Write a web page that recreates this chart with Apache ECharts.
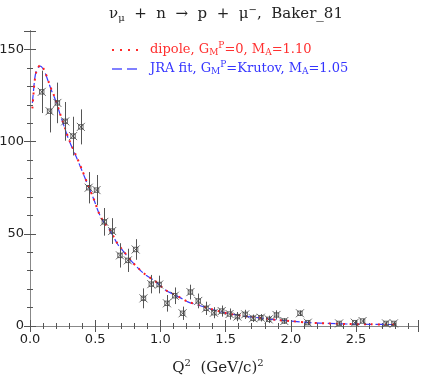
<!DOCTYPE html>
<html><head><meta charset="utf-8">
<script src="https://cdn.jsdelivr.net/npm/echarts@6/dist/echarts.min.js"></script>
<style>html,body{margin:0;padding:0;background:#fff}#c{width:421px;height:379px}</style>
</head><body><div id="c"></div>
<script>
// Data points (Baker_81)
const dataQ2 = [0.09,0.15,0.21,0.27,0.33,0.39,0.45,0.51,0.57,0.63,0.69,0.75,0.81,0.87,0.93,0.99,1.05,1.11,1.17,1.23,1.29,1.35,1.41,1.47,1.53,1.59,1.65,1.71,1.77,1.83,1.89,1.95,2.07,2.13,2.37,2.49,2.55,2.73,2.79];
const dataVal = [127,116.5,121,111,103,108,75,73.7,56.5,51.5,38.3,35.6,41.5,15,22.7,22.5,12.3,16.4,6.9,18.4,13.6,9.6,7.2,8.1,6.5,5.1,6.3,4.2,4.5,3.6,6,2.7,6.9,1.8,1.4,1.8,2.7,1.4,1.4];
const dataErr = [11.5,11.5,11,10.5,10.5,9.5,8.5,8.2,7.5,7,6.6,6.3,5.6,5.4,5,4.8,4.5,4.5,3.6,4,4,3.6,3,3,3,2.5,2.5,2,2,2,2.5,1.5,1.5,1.2,1,1,1.2,1,1];
// Dipole curve
const dipQ2 = [0.018,0.025,0.03,0.036,0.045,0.06,0.08,0.10,0.12,0.143,0.166,0.19,0.23,0.27,0.30,0.35,0.40,0.44,0.49,0.53,0.57,0.61,0.67,0.71,0.79,0.84,0.89,0.95,1.04,1.10,1.15,1.21,1.30,1.39,1.51,1.64,1.76,1.89,1.99,2.15,2.29,2.42,2.61,2.80];
const dipVal = [118,124,129,133,137,140,141.5,140,137,132.4,128,124,115.3,107,101,93,84.5,77.3,68.7,61,56,52.4,44.8,41.2,34.3,30.7,27.6,24.9,19.5,17.3,15.5,13.2,11.2,9.2,6.9,5.4,4.5,3.3,2.7,1.8,1.4,1.1,0.9,0.8];
// JRA fit curve
const jraQ2 = [0.018,0.025,0.03,0.036,0.045,0.06,0.08,0.10,0.12,0.143,0.166,0.19,0.23,0.27,0.30,0.35,0.40,0.44,0.49,0.53,0.57,0.61,0.67,0.71,0.79,0.84,0.89,0.95,1.04,1.10,1.15,1.21,1.30,1.39,1.51,1.64,1.76,1.89,1.99,2.15,2.29,2.42,2.61,2.80];
const jraVal = [121,126,130,134,137.5,140,141,139.5,136.5,132,127.5,123.5,115,106.5,100.5,92.5,84,77,68.5,61,55.8,52.2,44.6,41,34.2,30.6,27.5,24.8,19.4,17.2,15.4,13.1,11.1,9.1,6.9,5.4,4.4,3.3,2.7,1.8,1.4,1.1,0.9,0.8];
// Axis ticks
const xTicks = [0.0,0.5,1.0,1.5,2.0,2.5];
const yTicks = [0,50,100,150];

const X_MAX = 2.975, Y_MAX = 160;
const AX = '#888', TK = '#555', TXT = '#222';
const pts = dataQ2.map((q,i)=>[q,dataVal[i]]);
const errs = dataQ2.map((q,i)=>[q,dataVal[i]-dataErr[i],dataVal[i]+dataErr[i]]);
const dip = dipQ2.map((q,i)=>[q,dipVal[i]]);
const jra = jraQ2.map((q,i)=>[q,jraVal[i]]);

function xAx(pos, interval, len, labels){
  return {type:'value', min:0, max:X_MAX, interval:interval, position:pos,
    axisLine:{show:true, lineStyle:{color:AX,width:1}},
    axisTick:{show:true, inside:true, length:len, lineStyle:{color:TK,width:1}},
    splitLine:{show:false},
    axisLabel:{show:labels, margin:7, color:TXT, fontFamily:'DejaVu Sans', fontSize:13,
      formatter:v=>{const k=xTicks.findIndex(t=>Math.abs(t-v)<1e-6);return k>=0?xTicks[k].toFixed(1):'';}},
    name: labels ? 'Q{sup|2}  (GeV/c){sup|2}' : '',
    nameLocation:'middle', nameGap:32, nameMoveOverlap:false,
    nameTextStyle:{color:TXT, fontFamily:'DejaVu Serif', fontSize:15, padding:[0,0,0,-12],
      rich:{sup:{fontSize:10, fontFamily:'DejaVu Serif', color:TXT, padding:[0,0,10,0]}}}
  };
}
function yAx(pos, interval, len, labels){
  return {type:'value', min:0, max:Y_MAX, interval:interval, position:pos,
    axisLine:{show:true, lineStyle:{color:AX,width:1}},
    axisTick:{show:true, inside:true, length:len, lineStyle:{color:TK,width:1}},
    splitLine:{show:false},
    axisLabel:{show:labels, margin:6, color:TXT, fontFamily:'DejaVu Sans', fontSize:13,
      formatter:v=>yTicks.indexOf(v)>=0?String(v):''}
  };
}

const chart = echarts.init(document.getElementById('c'), null, {renderer:'canvas'});
function richFor(color){
  return {sub:{color, fontSize:9, fontFamily:'DejaVu Serif', padding:[6,0,0,0]},
          sup:{color, fontSize:9, fontFamily:'DejaVu Serif', padding:[0,0,8,0]}};
}
chart.setOption({
  animation:false,
  backgroundColor:'#fff',
  title:{text:'ν{sub|μ}  +  n  →  p  +  μ{sup|−},  Baker_81', left:221, textAlign:'center', top:0,
    textStyle:{color:TXT, fontFamily:'DejaVu Serif', fontSize:15, fontWeight:'normal',
      rich:{sub:{fontSize:10,color:TXT,fontFamily:'DejaVu Serif',padding:[7,0,0,0]},
            sup:{fontSize:10,color:TXT,fontFamily:'DejaVu Serif',padding:[0,0,9,0]}}}},
  grid:{left:30, right:3, top:31, bottom:53, containLabel:false, outerBoundsMode:'none'},
  // requested positions account for ECharts flipping axes on an already-used side
  xAxis:[xAx('bottom',0.5,6,true), xAx('top',0.5,6,false), xAx('top',0.1,3,false), xAx('bottom',0.1,3,false)],
  yAxis:[yAx('left',50,6,true), yAx('right',50,6,false), yAx('right',10,3,false), yAx('left',10,3,false)],
  graphic:[
    {type:'line', shape:{x1:112,y1:50,x2:140,y2:50}, style:{stroke:'#ff2a2a', lineWidth:2, lineDash:[2,6]}},
    {type:'text', x:150, y:50, style:{text:'dipole, G{sub|M}{sup|P}=0, M{sub|A}=1.10', fill:'#ff3030',
      font:'13px "DejaVu Serif"', verticalAlign:'middle', rich:richFor('#ff3030')}},
    {type:'line', shape:{x1:112,y1:69,x2:138,y2:69}, style:{stroke:'#8080ff', lineWidth:2, lineDash:[10,5]}},
    {type:'text', x:150, y:69, style:{text:'JRA fit, G{sub|M}{sup|P}=Krutov, M{sub|A}=1.05', fill:'#3535ff',
      font:'13px "DejaVu Serif"', verticalAlign:'middle', rich:richFor('#3535ff')}}
  ],
  series:[
    {type:'line', name:'JRA', data:jra, showSymbol:false, smooth:0.3,
      lineStyle:{color:'#3a3aff', width:1.2, type:[8,4]}, z:3},
    {type:'line', name:'dipole', data:dip, showSymbol:false, smooth:0.3,
      lineStyle:{color:'#ff2020', width:2, type:[2,5]}, z:4},
    {type:'custom', name:'err', data:errs, z:5,
      renderItem:(params, api)=>{
        const p1 = api.coord([api.value(0), api.value(1)]);
        const p2 = api.coord([api.value(0), api.value(2)]);
        return {type:'line', shape:{x1:Math.round(p1[0])+0.5,y1:p1[1],x2:Math.round(p2[0])+0.5,y2:p2[1]},
          style:{stroke:'#555', lineWidth:1}};
      }},
    {type:'scatter', name:'data', data:pts, z:6,
      symbol:'path://M0,0L8,8M8,0L0,8M1.8,1.8L6.2,1.8L6.2,6.2L1.8,6.2Z', symbolSize:8,
      itemStyle:{color:'rgba(0,0,0,0)', borderColor:'#444', borderWidth:1}}
  ]
});
</script></body></html>
